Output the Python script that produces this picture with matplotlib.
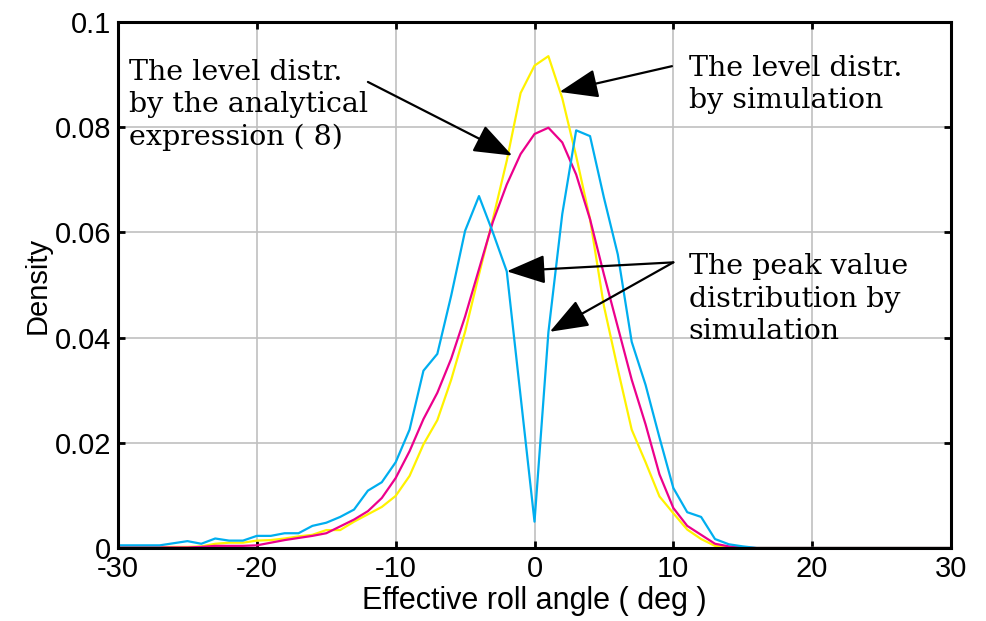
import numpy as np
import matplotlib
matplotlib.use('Agg')
import matplotlib.pyplot as plt

plt.rcParams['axes.unicode_minus'] = False

# angle grid (deg)
ang = np.arange(-30, 31)

# level distribution by simulation (yellow)
lev_sim = [0.0002, 0.0002, 0.0002, 0.0002, 0.0002, 0.0002, 0.0003, 0.0008, 0.001, 0.001,
           0.0014, 0.0015, 0.0018, 0.0022, 0.0025, 0.0034, 0.0034, 0.005, 0.0064, 0.0078,
           0.0099, 0.0137, 0.0197, 0.0243, 0.032, 0.0411, 0.052, 0.0625, 0.0736, 0.0865,
           0.0917, 0.0935, 0.0855, 0.0745, 0.0625, 0.046, 0.034, 0.0225, 0.0163, 0.0098,
           0.0066, 0.0035, 0.0017, 0.0004, 0.0001] + [0.0] * 16

# level distribution by analytical expression (8) (magenta)
lev_ana = [0.0001, 0.0001, 0.0001, 0.0001, 0.0001, 0.0001, 0.0002, 0.0004, 0.0004, 0.0004,
           0.0005, 0.001, 0.0015, 0.0019, 0.0023, 0.0028, 0.0041, 0.0054, 0.007, 0.0095,
           0.0133, 0.0184, 0.0245, 0.0295, 0.036, 0.044, 0.053, 0.062, 0.0691, 0.0749,
           0.0787, 0.0799, 0.0771, 0.071, 0.0625, 0.052, 0.042, 0.032, 0.0235, 0.014,
           0.0076, 0.0042, 0.0025, 0.0008, 0.0003, 0.0001] + [0.0] * 15

# peak value distribution by simulation (cyan)
peak_sim = [0.0005, 0.0005, 0.0005, 0.0005, 0.0009, 0.0013, 0.0008, 0.0018, 0.0014, 0.0014,
            0.0023, 0.0023, 0.0028, 0.0028, 0.0042, 0.0048, 0.0059, 0.0073, 0.0109, 0.0125,
            0.0163, 0.0225, 0.0337, 0.0369, 0.048, 0.0603, 0.0669, 0.060, 0.0526, 0.0288,
            0.005, 0.041, 0.0635, 0.0794, 0.0783, 0.0666, 0.0558, 0.0392, 0.031, 0.021,
            0.0114, 0.0068, 0.0059, 0.0017, 0.0007, 0.0003] + [0.0] * 15

xticks = [-30, -20, -10, 0, 10, 20, 30]
yticks = [0, 0.02, 0.04, 0.06, 0.08, 0.1]
yticklabels = ['0', '0.02', '0.04', '0.06', '0.08', '0.1']

sans = ['Liberation Sans', 'DejaVu Sans']
serif = ['DejaVu Serif']

fig = plt.figure(figsize=(9.86, 6.21), dpi=100)
ax = fig.add_axes([0.1197, 0.1176, 0.8448, 0.847])

ax.plot(ang, lev_sim, color='#FFF200', lw=1.6)
ax.plot(ang, lev_ana, color='#EC008C', lw=1.6)
ax.plot(ang, peak_sim, color='#00AEEF', lw=1.6)

ax.set_xlim(-30, 30)
ax.set_ylim(0, 0.1)
ax.set_xticks(xticks)
ax.set_yticks(yticks)
ax.set_yticklabels(yticklabels)
ax.grid(True, color='#c0c0c0', lw=1.2)
ax.set_axisbelow(True)
ax.tick_params(direction='in', length=5, width=2, top=True, right=True,
               labelsize=21, pad=5)
for lab in ax.get_xticklabels() + ax.get_yticklabels():
    lab.set_family(sans)
for s in ax.spines.values():
    s.set_linewidth(2.2)

ax.set_xlabel('Effective roll angle ( deg )', family=sans, fontsize=22, labelpad=2)
ax.set_ylabel('Density', family=sans, fontsize=21, labelpad=2)

aprops = dict(arrowstyle='-|>,head_length=0.8,head_width=0.3', mutation_scale=30,
              color='k', lw=1.6, shrinkA=0, shrinkB=0)

ax.text(-29.2, 0.0930, 'The level distr.\nby the analytical\nexpression ( 8)',
        family=serif, fontsize=20.5, va='top', ha='left', linespacing=1.25)
ax.annotate('', xy=(-1.6, 0.0746), xytext=(-12.0, 0.0886), arrowprops=aprops)

ax.text(11.1, 0.0937, 'The level distr.\nby simulation',
        family=serif, fontsize=20.5, va='top', ha='left', linespacing=1.25)
ax.annotate('', xy=(1.8, 0.0867), xytext=(9.9, 0.0916), arrowprops=aprops)

ax.text(11.1, 0.0560, 'The peak value\ndistribution by\nsimulation',
        family=serif, fontsize=20.5, va='top', ha='left', linespacing=1.25)
ax.annotate('', xy=(-2.0, 0.0526), xytext=(10.0, 0.0543), arrowprops=aprops)
ax.annotate('', xy=(1.1, 0.0411), xytext=(10.0, 0.0543), arrowprops=aprops)

fig.savefig('out.png', dpi=100)
